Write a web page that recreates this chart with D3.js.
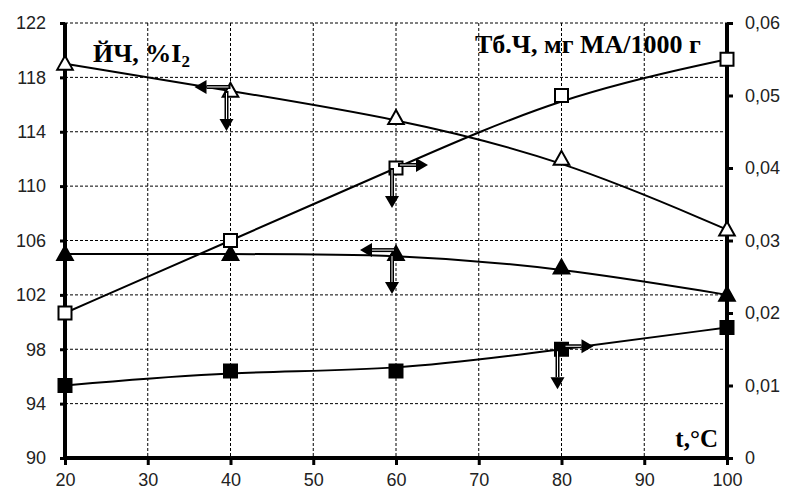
<!DOCTYPE html>
<html><head><meta charset="utf-8">
<script src="https://cdn.jsdelivr.net/npm/d3@7/dist/d3.min.js"></script>
<style>body{margin:0;background:#fff}svg{display:block}</style>
</head><body>
<script>
// ---- data ----
const temps = [20, 40, 60, 80, 100];
const ichOpenTri = [119, 117, 115, 112, 106.8];      // ЙЧ, open triangles (left axis)
const ichFilledTri = [105, 105, 105, 104, 102];      // ЙЧ, filled triangles (left axis)
const tbOpenSq = [0.020, 0.030, 0.040, 0.050, 0.055]; // Тб.Ч, open squares (right axis)
const tbFilledSq = [0.010, 0.012, 0.012, 0.015, 0.018]; // Тб.Ч, filled squares (right axis)
const xTicks = [20, 30, 40, 50, 60, 70, 80, 90, 100];
const leftTicks = [90, 94, 98, 102, 106, 110, 114, 118, 122];
const rightTicks = [0, 0.01, 0.02, 0.03, 0.04, 0.05, 0.06];
const rightTickLabels = ["0", "0,01", "0,02", "0,03", "0,04", "0,05", "0,06"];
// arrow annotations: which point, which directions
const arrows = [
  {series: "ichOpen", t: 40, dirs: ["left", "down"]},
  {series: "tbOpen", t: 60, dirs: ["right", "down"]},
  {series: "ichFilled", t: 60, dirs: ["left", "down"]},
  {series: "tbFilled", t: 80, dirs: ["right", "down"]}
];

const W = 787, H = 492;
const L = 65, R = 727, T = 23, B = 458;

const svg = d3.select("body").append("svg").attr("width", W).attr("height", H);

const x = d3.scaleLinear().domain([20, 100]).range([L, R]);
const yL = d3.scaleLinear().domain([90, 122]).range([B, T]);
const yR = d3.scaleLinear().domain([0, 0.06]).range([B, T]);

// grid
const grid = svg.append("g").attr("stroke", "#000").attr("stroke-width", 1).attr("stroke-dasharray", "3,2");
xTicks.filter(d => d > 20 && d < 100).forEach(d => {
  grid.append("line").attr("x1", x(d)).attr("x2", x(d)).attr("y1", T).attr("y2", B);
});
leftTicks.filter(d => d > 90).forEach(d => {
  grid.append("line").attr("x1", L).attr("x2", R).attr("y1", yL(d)).attr("y2", yL(d));
});

// axes
const fontTick = "'Liberation Sans', Arial, sans-serif";
const axL = svg.append("g").attr("transform", `translate(${L},0)`)
  .call(d3.axisLeft(yL).tickValues(leftTicks).tickSize(5).tickPadding(14).tickFormat(d3.format("d")));
const axR = svg.append("g").attr("transform", `translate(${R},0)`)
  .call(d3.axisRight(yR).tickValues(rightTicks).tickSize(6).tickPadding(12).tickFormat((d, i) => rightTickLabels[i]));
const axB = svg.append("g").attr("transform", `translate(0,${B})`)
  .call(d3.axisBottom(x).tickValues(xTicks).tickSize(7).tickPadding(8).tickFormat(d3.format("d")));
[axL, axR, axB].forEach(a => {
  a.select(".domain").attr("stroke", "#000").attr("stroke-width", 4);
  a.selectAll(".tick line").attr("stroke", "#000").attr("stroke-width", 3);
  a.selectAll(".tick text").attr("font-family", fontTick).attr("font-size", 18).attr("fill", "#222");
});
axL.select(".domain").attr("d", `M0,${B}V${T}`);
axR.select(".domain").attr("d", `M0,${B}V${T}`);
axB.select(".domain").attr("d", `M${L},0H${R}`);

// lines (smoothed)
const lineL = d3.line().x((d, i) => x(temps[i])).y(d => yL(d)).curve(d3.curveBasis);
const lineR = d3.line().x((d, i) => x(temps[i])).y(d => yR(d)).curve(d3.curveBasis);
const lines = svg.append("g").attr("fill", "none").attr("stroke", "#000").attr("stroke-width", 2);
lines.append("path").attr("d", lineL(ichOpenTri));
lines.append("path").attr("d", lineL(ichFilledTri));
lines.append("path").attr("d", lineR(tbOpenSq));
lines.append("path").attr("d", lineR(tbFilledSq));

// markers
const mk = svg.append("g");
const triPath = (cx, cy, s) => `M${cx},${cy - s * 0.62}L${cx + s * 0.6},${cy + s * 0.45}L${cx - s * 0.6},${cy + s * 0.45}Z`;
ichOpenTri.forEach((v, i) => mk.append("path").attr("d", triPath(x(temps[i]), yL(v), 13)).attr("fill", "#fff").attr("stroke", "#000").attr("stroke-width", 2));
ichFilledTri.forEach((v, i) => mk.append("path").attr("d", triPath(x(temps[i]), yL(v), 13)).attr("fill", "#000").attr("stroke", "#000").attr("stroke-width", 2));
tbOpenSq.forEach((v, i) => mk.append("rect").attr("x", x(temps[i]) - 6.5).attr("y", yR(v) - 6.5).attr("width", 13).attr("height", 13).attr("fill", "#fff").attr("stroke", "#000").attr("stroke-width", 2));
tbFilledSq.forEach((v, i) => mk.append("rect").attr("x", x(temps[i]) - 7.5).attr("y", yR(v) - 7.5).attr("width", 15).attr("height", 15).attr("fill", "#000"));

// arrows
const seriesMap = {
  ichOpen: {vals: ichOpenTri, y: yL},
  ichFilled: {vals: ichFilledTri, y: yL},
  tbOpen: {vals: tbOpenSq, y: yR},
  tbFilled: {vals: tbFilledSq, y: yR}
};
const ag = svg.append("g");
function drawArrow(x1, y1, x2, y2) {
  const ang = Math.atan2(y2 - y1, x2 - x1);
  const hl = 12, hw = 7;
  const bx = x2 - hl * Math.cos(ang), by = y2 - hl * Math.sin(ang);
  ag.append("line").attr("x1", x1).attr("y1", y1).attr("x2", bx).attr("y2", by).attr("stroke", "#000").attr("stroke-width", 4);
  ag.append("line").attr("x1", x1 + 2 * Math.cos(ang)).attr("y1", y1 + 2 * Math.sin(ang)).attr("x2", bx).attr("y2", by).attr("stroke", "#fff").attr("stroke-width", 1);
  const px = -Math.sin(ang) * hw, py = Math.cos(ang) * hw;
  ag.append("path").attr("d", `M${x2},${y2}L${bx + px},${by + py}L${bx - px},${by - py}Z`).attr("fill", "#000");
}
arrows.forEach(a => {
  const s = seriesMap[a.series];
  const i = temps.indexOf(a.t);
  const cx = x(a.t), cy = s.y(s.vals[i]);
  a.dirs.forEach(d => {
    if (d === "left") drawArrow(cx, cy - 4, cx - 36, cy - 4);
    if (d === "right") drawArrow(cx + 2, cy - 3, cx + 32, cy - 3);
    if (d === "down") drawArrow(cx - 4, cy, cx - 4, cy + 40);
  });
});

// titles
const serif = "'Liberation Serif', 'Times New Roman', serif";
const t1 = svg.append("text").attr("x", 93).attr("y", 62).attr("font-family", serif).attr("font-weight", "bold").attr("font-size", 26).attr("fill", "#000");
t1.append("tspan").text("ЙЧ, %I");
t1.append("tspan").attr("font-size", 17).attr("dy", 5).text("2");
svg.append("text").attr("x", 475).attr("y", 53).attr("font-family", serif).attr("font-weight", "bold").attr("font-size", 26).attr("fill", "#000").text("Тб.Ч, мг МА/1000 г");
svg.append("text").attr("x", 718).attr("y", 447).attr("text-anchor", "end").attr("font-family", serif).attr("font-weight", "bold").attr("font-size", 25).attr("fill", "#000").text("t,°C");
</script>
</body></html>
